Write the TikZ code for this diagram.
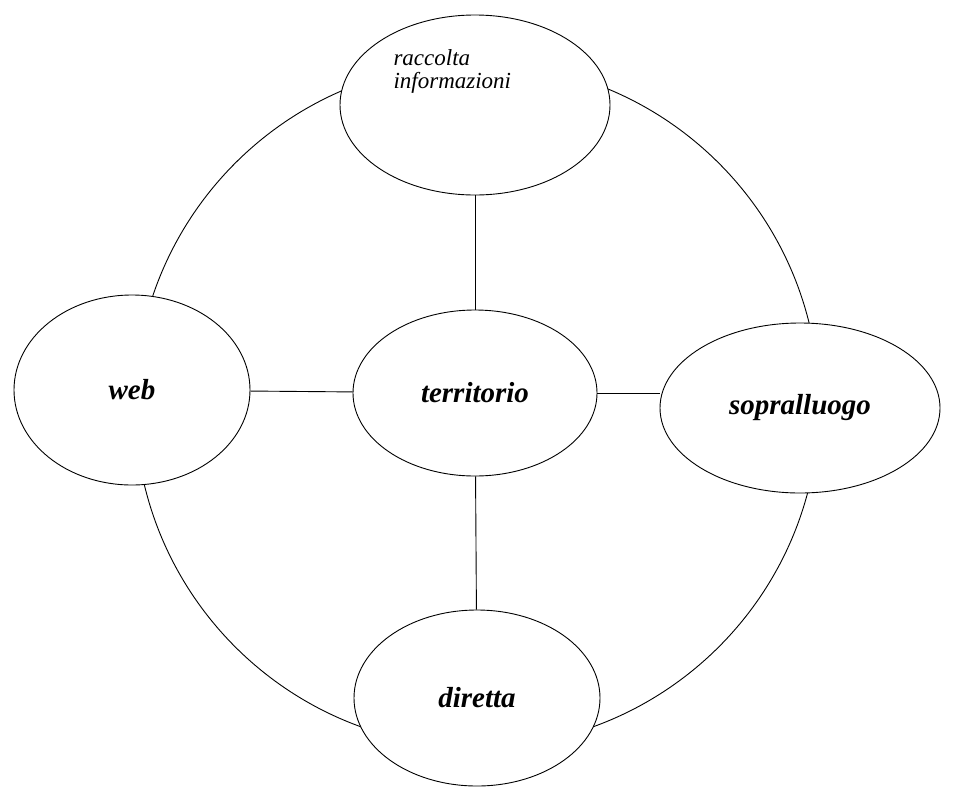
\documentclass[tikz,border=0pt]{standalone}
\usepackage{fontspec}
\setmainfont{Liberation Serif}
\usetikzlibrary{shapes.geometric}
\begin{document}
\begin{tikzpicture}[x=1pt,y=-1pt,
  el/.style={ellipse,draw,fill=white,line width=0.9pt,inner sep=0pt},
  lbl/.style={font=\fontsize{29}{31}\selectfont\bfseries\itshape},
  ln/.style={line width=0.9pt}]
\useasboundingbox[fill=white] (0,0) rectangle (955,793);
\draw[ln] (477,405) circle (342);
\node[el,minimum width=270pt,minimum height=180pt] (top) at (475,105) {};
\node[font=\fontsize{23}{23}\selectfont\itshape,align=left,anchor=north west] (toptext) at (390,46) {raccolta\\informazioni};
\node[el,minimum width=244pt,minimum height=166pt,lbl] (c) at (475,393) {territorio};
\node[el,minimum width=236pt,minimum height=190pt,lbl] (w) at (132,390) {web};
\node[el,minimum width=280pt,minimum height=170pt,lbl] (s) at (800,408) {sopralluogo};
\node[el,minimum width=246pt,minimum height=176pt,lbl] (d) at (477,698) {diretta};
\draw[ln] (top) -- (c);
\draw[ln] (c) -- (d);
\draw[ln] (w) -- (c);
\draw[ln] (c.east) -- (s.west |- c.east);
\end{tikzpicture}
\end{document}
